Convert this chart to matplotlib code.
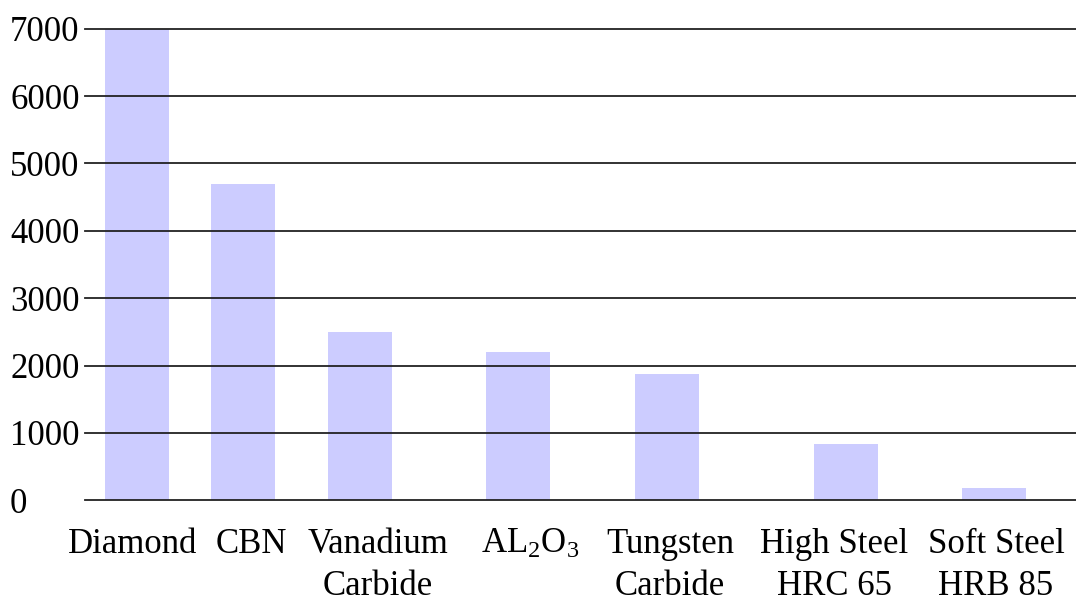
import matplotlib
matplotlib.use("Agg")
import matplotlib.pyplot as plt
import matplotlib.transforms as mtransforms

# data
materials = ["Diamond", "CBN", "Vanadium\nCarbide", "AL$_2$O$_3$",
             "Tungsten\nCarbide", "High Steel\nHRC 65", "Soft Steel\nHRB 85"]
hardness = [7000, 4700, 2500, 2200, 1870, 840, 180]
yticks = [0, 1000, 2000, 3000, 4000, 5000, 6000, 7000]

# layout (uneven spacing as in the original)
barPos = [52, 158, 274.5, 433, 581.5, 761, 909]
labelPos = [48, 166, 293, 445, 585, 749, 911]

plt.rcParams["font.family"] = ["Liberation Serif", "DejaVu Serif"]
plt.rcParams["mathtext.fontset"] = "custom"
plt.rcParams["mathtext.rm"] = "Liberation Serif"
plt.rcParams["mathtext.default"] = "regular"

fig = plt.figure(figsize=(10.76, 6.02), dpi=100)
ax = fig.add_axes([85 / 1076, 1 - 500.3 / 602, 1 - 85 / 1076, (500.3 - 28.7) / 602])

ax.bar(barPos, hardness, width=64, color="#ccccff", zorder=1)

for y in yticks:
    ax.axhline(y, color="#222222", linewidth=1.3, zorder=2, clip_on=False)

ax.set_xlim(0, 991)
ax.set_ylim(0, 7000)
ax.set_yticks(yticks)
ax.set_yticklabels([str(v) for v in yticks], fontsize=25)
# labels sit a little above their lines in the original
up = mtransforms.ScaledTranslation(0, 4 / 100, fig.dpi_scale_trans)
for lbl in ax.get_yticklabels():
    lbl.set_horizontalalignment("left")
    lbl.set_transform(lbl.get_transform() + up)
ax.tick_params(axis="y", length=0, pad=54)

ax.set_xticks(labelPos)
ax.set_xticklabels(materials, fontsize=25, linespacing=1.35)
ax.tick_params(axis="x", length=0, pad=20)

for s in ax.spines.values():
    s.set_visible(False)

fig.savefig("out.png", dpi=100)
